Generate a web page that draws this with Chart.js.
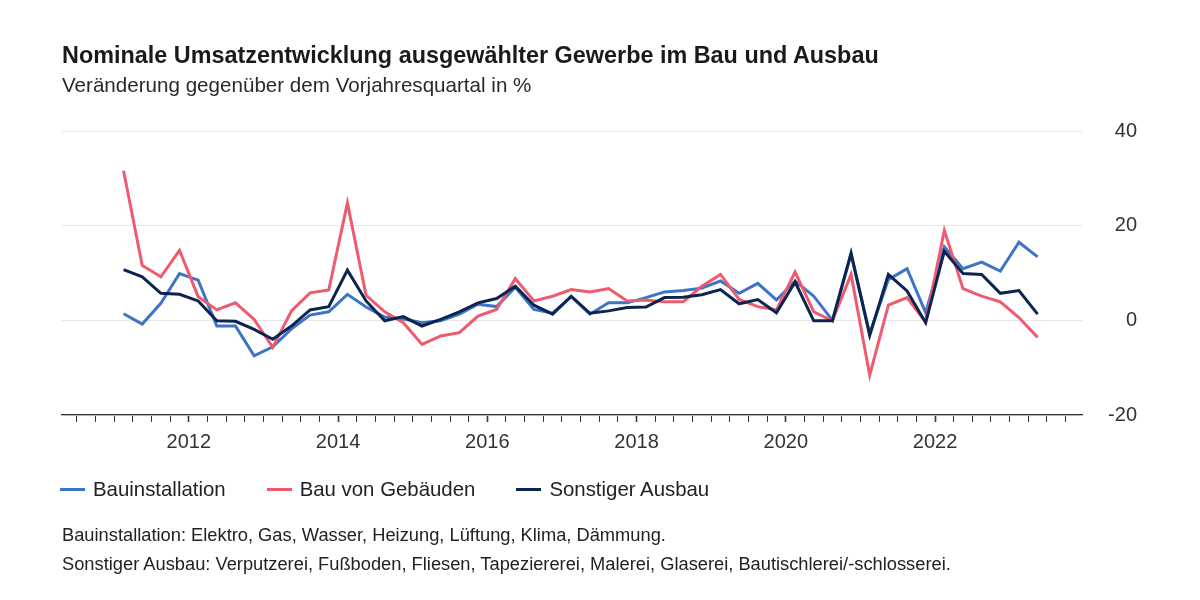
<!DOCTYPE html>
<html lang="de">
<head>
<meta charset="utf-8">
<title>Nominale Umsatzentwicklung</title>
<script src="https://cdn.jsdelivr.net/npm/chart.js@4.4.1/dist/chart.umd.min.js"></script>
<style>
  html, body { margin: 0; padding: 0; background: #fff; }
  body { font-family: "Liberation Sans", Arial, sans-serif; color: #222; }
  #wrap { position: relative; width: 1200px; height: 600px; overflow: hidden; }
  #myChart { position: absolute; left: 0; top: 0; }
  .txt { position: absolute; left: 62px; white-space: nowrap; }
  #title { top: 41px; font-size: 23.4px; font-weight: bold; line-height: 28px; color: #1a1a1a; }
  #subtitle { top: 71px; font-size: 20.6px; line-height: 28px; color: #2a2a2a; }
  #legend { position: absolute; left: 60px; top: 476px; display: flex; font-size: 20.4px; line-height: 26px; color: #222; }
  .item { display: flex; align-items: center; margin-right: 41px; }
  .swatch { width: 25px; height: 3px; margin-right: 8px; }
  #note1 { top: 523px; font-size: 18.3px; line-height: 24px; }
  #note2 { top: 552px; font-size: 18.3px; line-height: 24px; }
</style>
</head>
<body>
<div id="wrap">
  <canvas id="myChart" width="1200" height="600"></canvas>
  <div class="txt" id="title">Nominale Umsatzentwicklung ausgewählter Gewerbe im Bau und Ausbau</div>
  <div class="txt" id="subtitle">Veränderung gegenüber dem Vorjahresquartal in %</div>
  <div id="legend"></div>
  <div class="txt" id="note1">Bauinstallation: Elektro, Gas, Wasser, Heizung, Lüftung, Klima, Dämmung.</div>
  <div class="txt" id="note2">Sonstiger Ausbau: Verputzerei, Fußboden, Fliesen, Tapeziererei, Malerei, Glaserei, Bautischlerei/-schlosserei.</div>
</div>
<script>
// quarters 2011 Q1 .. 2023 Q2
const quarters = [];
for (let y = 2011; y <= 2023; y++) {
  for (let q = 1; q <= 4; q++) {
    if (y === 2023 && q > 2) break;
    quarters.push(y + "-Q" + q);
  }
}

// values, % vs. same quarter of previous year
const bauinstallation = [
  1.4, -0.8, 3.6, 9.9, 8.5, -1.2, -1.2, -7.5, -5.6, -1.8,
  1.1, 1.8, 5.5, 2.8, 0.7, 0.3, -0.5, -0.1, 1.3, 3.4,
  2.9, 7.0, 2.3, 1.5, 5.0, 1.3, 3.7, 3.7, 4.8, 6.0,
  6.3, 6.8, 8.3, 5.7, 7.8, 4.3, 8.3, 5.1, 0.0, 14.0,
  -2.8, 8.6, 10.9, 1.6, 15.5, 10.9, 12.3, 10.4, 16.5, 13.4
];
const bauVonGebaeuden = [
  31.6, 11.6, 9.2, 14.8, 5.0, 2.2, 3.7, 0.2, -5.7, 2.0,
  5.8, 6.4, 24.8, 5.3, 1.8, -0.5, -5.1, -3.3, -2.6, 0.9,
  2.3, 8.8, 4.1, 5.1, 6.5, 6.0, 6.7, 4.1, 4.3, 3.9,
  3.9, 7.2, 9.7, 4.4, 2.9, 2.2, 10.2, 1.8, -0.1, 9.7,
  -11.6, 3.2, 4.8, -0.4, 19.0, 6.7, 5.1, 3.9, 0.6, -3.6
];
const sonstigerAusbau = [
  10.7, 9.2, 5.7, 5.5, 4.1, -0.1, -0.2, -1.9, -4.0, -1.2,
  2.2, 2.9, 10.6, 4.1, -0.1, 0.8, -1.2, 0.2, 1.8, 3.7,
  4.6, 7.2, 3.2, 1.3, 5.1, 1.5, 2.0, 2.7, 2.8, 4.8,
  4.9, 5.4, 6.5, 3.5, 4.4, 1.6, 8.1, -0.1, -0.1, 14.2,
  -3.2, 9.7, 6.2, -0.5, 14.6, 9.9, 9.7, 5.7, 6.3, 1.3
];

const yearLabels = [2012, 2014, 2016, 2018, 2020, 2022];
const yTicks = [-20, 0, 20, 40];

// quarter label -> position on a decimal year axis (middle of the quarter)
function quarterPos(label) {
  const parts = label.split("-Q");
  return Number(parts[0]) + (Number(parts[1]) - 1) / 4 + 0.125;
}
function toPoints(values) {
  return values.map((v, i) => ({ x: quarterPos(quarters[i]), y: v }));
}

// tick marks at every quarter boundary
const quarterTicks = [];
for (let t = 2010.5; t <= 2023.75; t += 0.25) quarterTicks.push(t);

const ctx = document.getElementById("myChart");
const chart = new Chart(ctx, {
  type: "line",
  data: {
    datasets: [
      { label: "Bauinstallation", data: toPoints(bauinstallation), borderColor: "#3d74c6", backgroundColor: "#3d74c6", order: 3 },
      { label: "Bau von Gebäuden", data: toPoints(bauVonGebaeuden), borderColor: "#f05a6e", backgroundColor: "#f05a6e", order: 2 },
      { label: "Sonstiger Ausbau", data: toPoints(sonstigerAusbau), borderColor: "#0c2550", backgroundColor: "#0c2550", order: 1 },
    ],
  },
  options: {
    responsive: false,
    animation: false,
    devicePixelRatio: 1,
    layout: { padding: { left: 62, right: 63, top: 131, bottom: 145 } },
    elements: {
      line: { borderWidth: 3, tension: 0, fill: false },
      point: { radius: 0, hoverRadius: 0 },
    },
    plugins: {
      legend: { display: false },
      tooltip: { enabled: false },
    },
    scales: {
      x: {
        type: "linear",
        min: 2010.3,
        max: 2023.97,
        afterBuildTicks: (scale) => {
          scale.ticks = quarterTicks.map((v) => ({ value: v }));
        },
        afterFit: (scale) => { scale.height = 40; },
        ticks: {
          autoSkip: false,
          maxRotation: 0,
          padding: 8,
          color: "#333",
          font: { family: "'Liberation Sans', Arial, sans-serif", size: 20 },
          callback: (v) => (yearLabels.includes(v) ? String(v) : ""),
        },
        grid: {
          drawOnChartArea: false,
          drawTicks: true,
          tickLength: 7,
          tickColor: "#333",
          tickWidth: (c) => (c.tick && c.tick.value % 2 === 0 ? 1.6 : 1),
        },
        border: { color: "#333", width: 1.2 },
      },
      y: {
        position: "right",
        min: -20,
        max: 40,
        afterBuildTicks: (scale) => {
          scale.ticks = yTicks.map((v) => ({ value: v }));
        },
        afterFit: (scale) => { scale.width = 55; },
        ticks: {
          crossAlign: "far",
          padding: 27,
          color: "#333",
          font: { family: "'Liberation Sans', Arial, sans-serif", size: 20 },
        },
        grid: { color: "#e6e6e6", drawTicks: false, lineWidth: 1 },
        border: { display: false },
      },
    },
  },
});

// html legend from the chart's datasets
const legendEl = document.getElementById("legend");
chart.data.datasets.forEach((ds) => {
  const item = document.createElement("div");
  item.className = "item";
  const sw = document.createElement("span");
  sw.className = "swatch";
  sw.style.background = ds.borderColor;
  const tx = document.createElement("span");
  tx.textContent = ds.label;
  item.appendChild(sw);
  item.appendChild(tx);
  legendEl.appendChild(item);
});
</script>
</body>
</html>
